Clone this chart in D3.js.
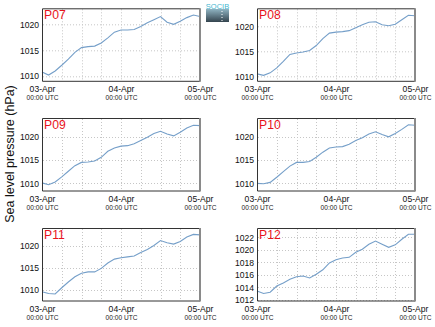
<!DOCTYPE html>
<html><head><meta charset="utf-8">
<script src="https://cdn.jsdelivr.net/npm/d3@7/dist/d3.min.js"></script>
<style>
body{margin:0;background:#fff;}
svg{display:block;font-family:"Liberation Sans",Arial,Helvetica,sans-serif;}
</style></head>
<body>
<svg id="c" width="435" height="327"></svg>
<script>
// ---- data ----
const hours = [0,2,4,6,8,10,12,14,16,18,20,22,24,26,28,30,32,34,36,38,40,42,44,46,48];
const stations = ["P07","P08","P09","P10","P11","P12"];
const p07 = [1010.8,1010.2,1011.0,1012.1,1013.3,1014.6,1015.5,1015.7,1015.8,1016.4,1017.4,1018.5,1018.9,1018.9,1019.0,1019.6,1020.3,1020.9,1021.5,1020.4,1020.0,1020.6,1021.3,1021.8,1021.5];
const p08 = [1010.5,1010.2,1010.7,1011.7,1013.0,1014.4,1014.7,1014.9,1015.2,1016.2,1017.6,1018.7,1018.9,1019.0,1019.2,1019.8,1020.4,1020.9,1021.0,1020.4,1020.2,1020.5,1021.4,1022.3,1022.2];
const p09 = [1010.1,1009.7,1010.3,1011.4,1012.6,1013.8,1014.5,1014.6,1014.8,1015.6,1016.9,1017.6,1018.0,1018.1,1018.5,1019.2,1019.9,1020.7,1021.2,1020.6,1020.2,1021.0,1021.9,1022.5,1022.4];
const p10 = [1010.0,1009.9,1010.2,1011.3,1012.5,1013.7,1014.5,1014.5,1014.7,1015.6,1016.7,1017.6,1017.8,1017.9,1018.4,1019.2,1019.8,1020.6,1021.1,1020.5,1020.0,1020.7,1021.6,1022.6,1022.5];
const p11 = [1009.6,1009.2,1009.1,1010.5,1011.8,1013.0,1013.8,1014.1,1014.1,1014.9,1016.1,1017.0,1017.3,1017.5,1017.7,1018.5,1019.2,1020.1,1021.2,1020.7,1020.4,1021.0,1022.0,1022.6,1022.5];
const p12 = [1013.4,1013.0,1013.2,1014.2,1014.7,1015.3,1015.7,1015.8,1015.5,1016.1,1016.8,1017.9,1018.4,1018.7,1018.8,1019.6,1020.1,1020.9,1021.4,1020.9,1020.4,1020.8,1021.7,1022.5,1022.5];
const series = [p07,p08,p09,p10,p11,p12];
const yMin = [1009.0,1009.0,1008.35,1008.35,1007.5,1011.8];
const yMax = [1023.1,1023.7,1024.05,1024.05,1024.05,1023.5];
const yTicksDefault = [1010,1015,1020];
const yTicksP12 = [1012,1014,1016,1018,1020,1022];
const xTickDays = ["03-Apr","04-Apr","05-Apr"];
const xTickSub = "00:00 UTC";
const yLabel = "Sea level pressure (hPa)";

// ---- layout ----
const colX = [42, 257], rowY = [8.3, 118, 228];
const pw = 158, ph = 73;
const svg = d3.select("#c");
const t0 = Date.UTC(2015,3,3,0);
const toDate = h => new Date(t0 + h*3600e3);
const dayDates = [toDate(0), toDate(24), toDate(48)];
const gridDates = d3.range(6,48,6).map(toDate);

stations.forEach((name,i)=>{
  const ox = colX[i%2], oy = rowY[Math.floor(i/2)];
  const g = svg.append("g").attr("transform",`translate(${ox},${oy})`);
  const x = d3.scaleUtc().domain([toDate(0),toDate(48)]).range([0,pw]);
  const y = d3.scaleLinear().domain([yMin[i],yMax[i]]).range([ph,0]);
  const yt = name==="P12" ? yTicksP12 : yTicksDefault;
  // grid
  g.selectAll(".vg").data(gridDates).enter().append("line")
    .attr("x1",d=>Math.round(x(d))+0.5).attr("x2",d=>Math.round(x(d))+0.5).attr("y1",1).attr("y2",ph)
    .attr("stroke","#c6c6c6").attr("stroke-width",1).attr("stroke-dasharray","1,2");
  g.selectAll(".hg").data(yt).enter().append("line")
    .attr("x1",1).attr("x2",pw).attr("y1",d=>Math.round(y(d))+0.5).attr("y2",d=>Math.round(y(d))+0.5)
    .attr("stroke","#c6c6c6").attr("stroke-width",1).attr("stroke-dasharray","1,2");
  // line
  const line = d3.line().x((d,k)=>x(toDate(hours[k]))).y(d=>y(d));
  g.append("path").datum(series[i]).attr("d",line)
    .attr("fill","none").attr("stroke","#759fc9").attr("stroke-width",1.1);
  // frame
  g.append("path").attr("d",`M${pw},0.5H0.5V${ph}H${pw}`)
    .attr("fill","none").attr("stroke","#333").attr("stroke-width",1);
  g.append("line").attr("x1",pw).attr("x2",pw).attr("y1",0).attr("y2",ph+0.5)
    .attr("stroke","#8a8a8a").attr("stroke-width",2);
  // y axis
  const ya = g.append("g").call(d3.axisLeft(y).tickValues(yt).tickSize(0).tickPadding(3).tickFormat(d3.format("d")));
  ya.select(".domain").remove();
  ya.selectAll("text").attr("font-size","8.6px").attr("fill","#111").attr("font-family","Liberation Sans, Arial, sans-serif");
  // x axis
  const xa = g.append("g").attr("transform",`translate(0,${ph})`)
    .call(d3.axisBottom(x).tickValues(dayDates).tickSize(0).tickPadding(0).tickFormat((d,k)=>xTickDays[k]));
  xa.select(".domain").remove();
  xa.selectAll("text").attr("dy",null).attr("y",11).attr("font-size","8.6px").attr("fill","#111")
    .attr("font-family","Liberation Sans, Arial, sans-serif");
  xa.selectAll(".tick").append("text").attr("y",19).attr("text-anchor","middle")
    .attr("font-size","6.6px").attr("fill","#222").text(xTickSub);
  // label
  g.append("text").attr("x",2).attr("y",10.8).attr("font-size","12.2px").attr("fill","#e8141c").text(name);
});

// y label
svg.append("text").attr("transform","translate(14,154) rotate(-90)").attr("text-anchor","middle")
  .attr("font-size","12.5px").attr("fill","#111").text(yLabel);

// logo
const defs = svg.append("defs");
const lg = defs.append("linearGradient").attr("id","lg").attr("x1",0).attr("x2",0).attr("y1",0).attr("y2",1);
lg.append("stop").attr("offset","0").attr("stop-color","#8fb3c2");
lg.append("stop").attr("offset","1").attr("stop-color","#34444e");
svg.append("rect").attr("x",206).attr("y",9).attr("width",23).attr("height",13).attr("fill","url(#lg)");
svg.append("line").attr("x1",222).attr("x2",222).attr("y1",11).attr("y2",21).attr("stroke","#fff").attr("stroke-dasharray","1,2");
svg.append("text").attr("x",217.5).attr("y",8.5).attr("text-anchor","middle").attr("font-size","7.5px").attr("fill","#3fb6cf").text("SOCIB");
</script>
</body></html>
